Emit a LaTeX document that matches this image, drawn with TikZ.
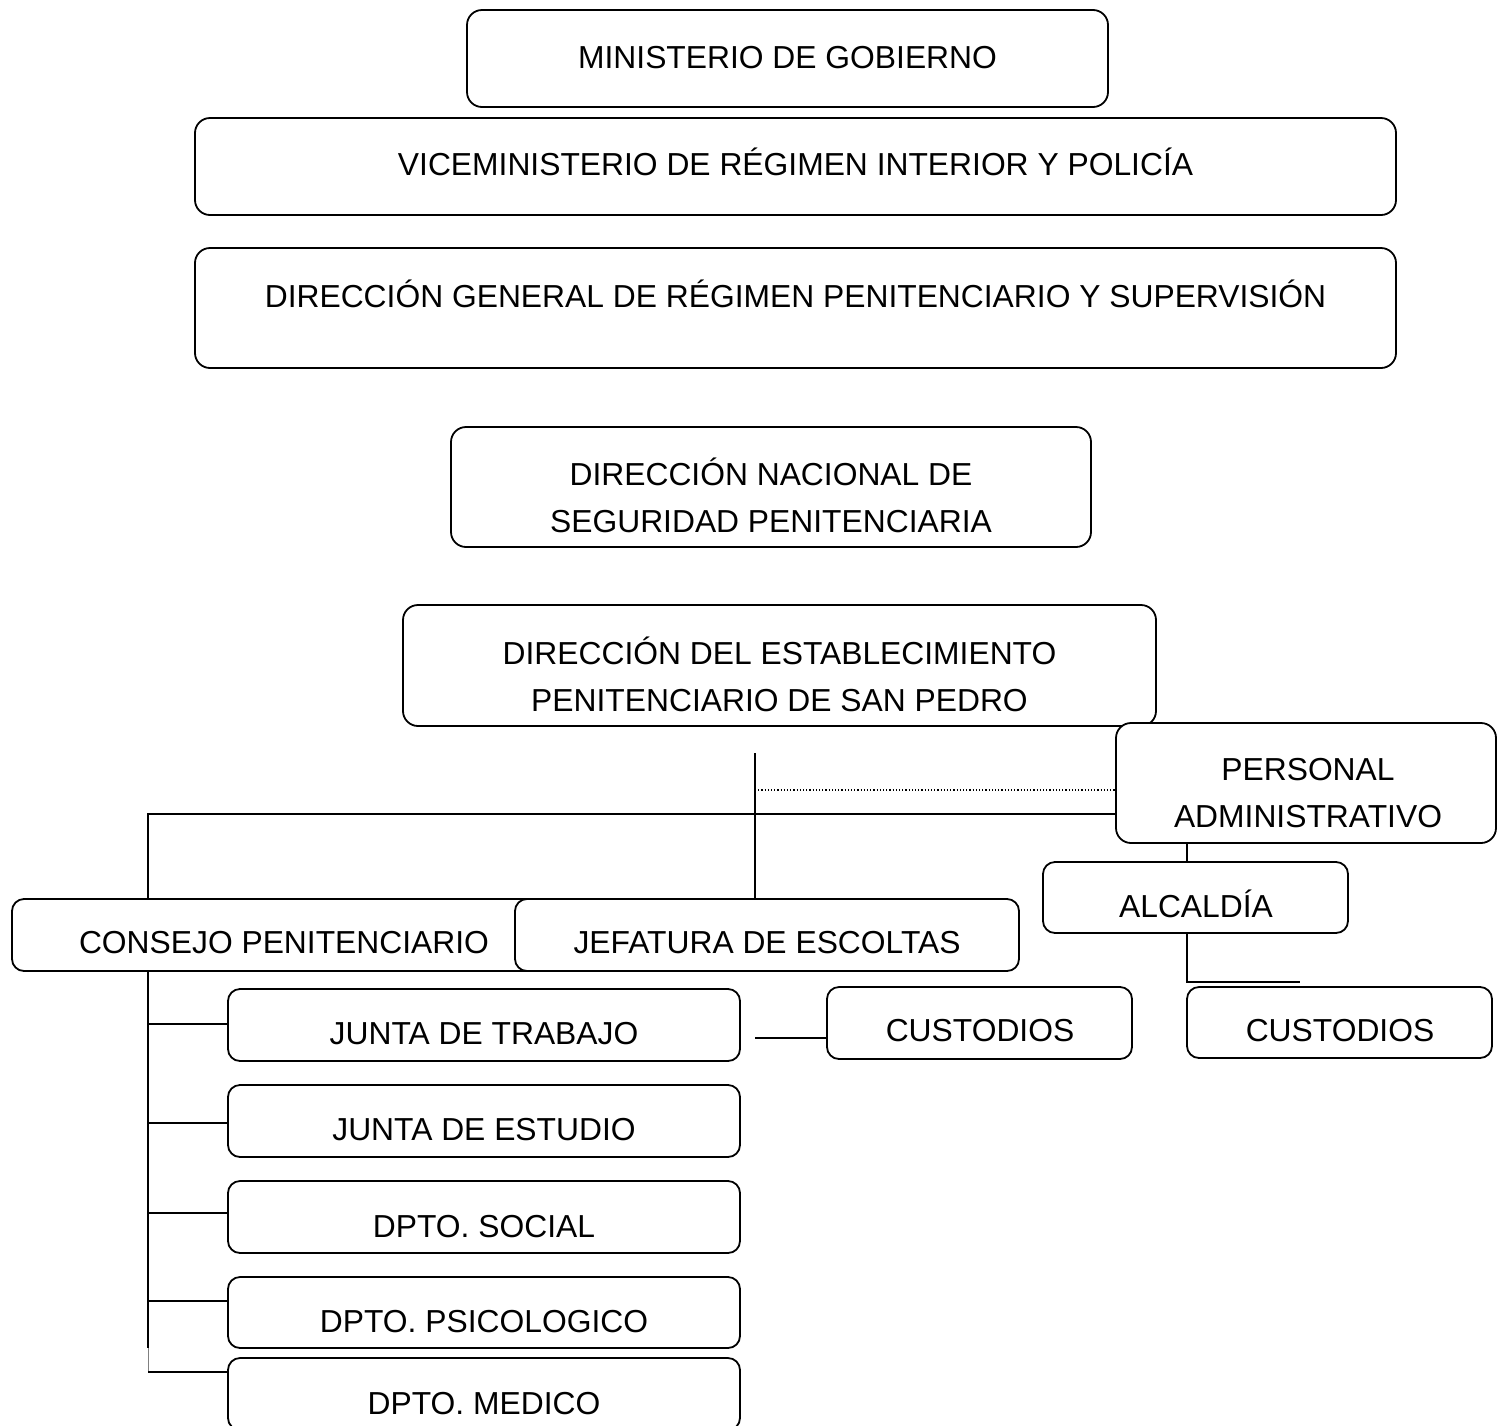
\documentclass[tikz,border=0pt]{standalone}
\usepackage{fontspec}
\setmainfont{Liberation Sans}
\begin{document}
\begin{tikzpicture}[x=1pt,y=-1pt,
  box/.style={draw, line width=1.8pt, rounded corners=15pt, inner sep=0pt, fill=white},
  sbox/.style={box, rounded corners=12pt},
  txt/.style={anchor=base, inner sep=0pt, font=\fontsize{31.8}{47}\selectfont},
  conn/.style={line width=1.8pt}]
\useasboundingbox (0,0) rectangle (1497,1425);
% boxes
\node[box, minimum width=641, minimum height=97] (min) at (787.5,58.5) {};
\node[box, minimum width=1201, minimum height=97] (vice) at (795.5,166.5) {};
\node[box, minimum width=1201, minimum height=120] (gen) at (795.5,308) {};
\node[box, minimum width=640, minimum height=120] (nac) at (771,487) {};
\node[box, minimum width=753, minimum height=121] (est) at (779.5,665.5) {};
\node[box, minimum width=380, minimum height=120] (pers) at (1306,783) {};
\node[sbox, minimum width=305, minimum height=71] (alc) at (1195.5,897.5) {};
\node[sbox, minimum width=305, minimum height=71] (cusR) at (1339.5,1022.5) {};
\node[sbox, minimum width=544, minimum height=72] (cons) at (284,935) {};
\node[sbox, minimum width=504, minimum height=72] (jef) at (767,935) {};
\node[sbox, minimum width=512, minimum height=72] (jt) at (484,1025) {};
\node[sbox, minimum width=512, minimum height=72] (je) at (484,1121) {};
\node[sbox, minimum width=512, minimum height=72] (ds) at (484,1217) {};
\node[sbox, minimum width=512, minimum height=71] (dp) at (484,1312.5) {};
\node[sbox, minimum width=512, minimum height=72] (dm) at (484,1394) {};
\node[sbox, minimum width=305, minimum height=72] (cusM) at (979.5,1023) {};
% texts
\node[txt] (tmin) at (787.5,68) {MINISTERIO DE GOBIERNO};
\node[txt] (tvice) at (795.5,175) {VICEMINISTERIO DE RÉGIMEN INTERIOR Y POLICÍA};
\node[txt] (tgen) at (795.5,307) {DIRECCIÓN GENERAL DE RÉGIMEN PENITENCIARIO Y SUPERVISIÓN};
\node[txt] (tnac1) at (771,485) {DIRECCIÓN NACIONAL DE};
\node[txt] (tnac2) at (771,532) {SEGURIDAD PENITENCIARIA};
\node[txt] (test1) at (779.5,664) {DIRECCIÓN DEL ESTABLECIMIENTO};
\node[txt] (test2) at (779.5,711) {PENITENCIARIO DE SAN PEDRO};
\node[txt] (tpers1) at (1308,780) {PERSONAL};
\node[txt] (tpers2) at (1308,827) {ADMINISTRATIVO};
\node[txt] (talc) at (1196,917) {ALCALDÍA};
\node[txt] (tcusR) at (1340,1041) {CUSTODIOS};
\node[txt] (tcons) at (284,953) {CONSEJO PENITENCIARIO};
\node[txt] (tjef) at (767,953) {JEFATURA DE ESCOLTAS};
\node[txt] (tjt) at (484,1044) {JUNTA DE TRABAJO};
\node[txt] (tje) at (484,1140) {JUNTA DE ESTUDIO};
\node[txt] (tds) at (484,1237) {DPTO. SOCIAL};
\node[txt] (tdp) at (484,1332) {DPTO. PSICOLOGICO};
\node[txt] (tdm) at (484,1414) {DPTO. MEDICO};
\node[txt] (tcusM) at (980,1041) {CUSTODIOS};
% connector coordinates
\coordinate (hL) at (148,814);
\coordinate (hR) at (1116,814);
\coordinate (vt) at (755,753);
\coordinate (d1) at (755,790);
\coordinate (d2) at (1116,790);
\coordinate (pa) at (1187,843);
\coordinate (ab) at (1187,933);
\coordinate (ae) at (1300,982);
\coordinate (mL) at (755,1038);
\coordinate (mR) at (827,1038);
\coordinate (tb) at (148,971);
\coordinate (tm) at (148,1348);
\coordinate (te) at (148,1372);
% connectors
\draw[conn] (hL |- cons.north) -- (hL) -- (hR);
\draw[conn] (vt) -- (vt |- jef.north);
\draw[line width=1.2pt, dotted] (d1) -- (d2);
\draw[conn] (pa) -- (pa |- alc.north);
\draw[conn] (ab) |- (ae);
\draw[conn] (mL) -- (mR);
\draw[conn] (tb) -- (tm);
\draw[line width=1pt, gray] (tm) -- (te);
\draw[conn] (te) -- (dm.west |- te);
\draw[conn] (148,1024) -- (jt.west |- 0,1024);
\draw[conn] (148,1123) -- (je.west |- 0,1123);
\draw[conn] (148,1213) -- (ds.west |- 0,1213);
\draw[conn] (148,1301) -- (dp.west |- 0,1301);
\end{tikzpicture}
\end{document}
